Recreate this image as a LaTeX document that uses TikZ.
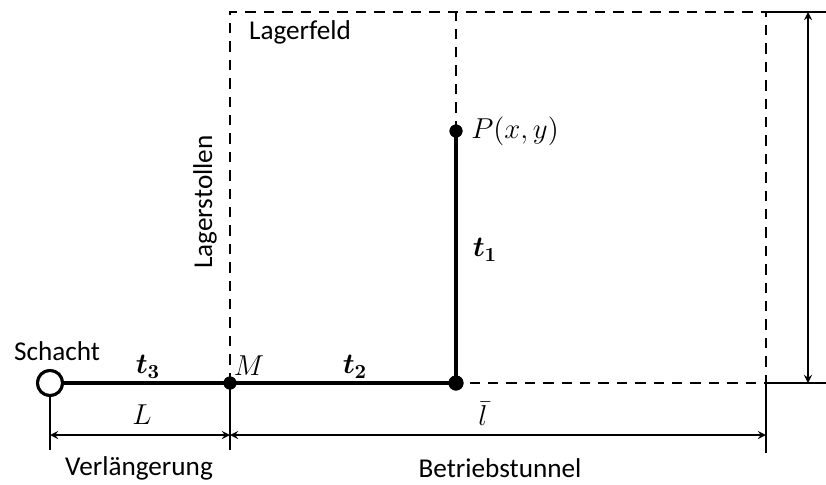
\documentclass[tikz,border=0pt]{standalone}
\usepackage{amsmath,amssymb}
\usepackage{fontspec}
\setmainfont{Carlito}
\usepackage{tikz}
\usetikzlibrary{arrows}

\tikzset{
  tunnel/.style={line width=1.6pt},
  field/.style={line width=1.3pt, dash pattern=on 5.2pt off 4pt},
  dimline/.style={line width=0.8pt},
  dot/.style={circle, fill, inner sep=0pt, minimum size=6.5pt},
  shaft/.style={circle, draw, line width=1.5pt, fill=white, inner sep=0pt, minimum size=12.5pt},
  lbl/.style={inner sep=1pt, font=\fontsize{13.6}{16}\selectfont}
}

\begin{document}
\begin{tikzpicture}[x=0.5pt, y=-0.5pt]
    \useasboundingbox (0,0) rectangle (826,484);
    % points
    \node[shaft] (S) at (50,383) {};
    \node[dot] (M) at (230,383) {};
    \node[dot, minimum size=7.5pt] (Q) at (456,383) {};
    \node[dot] (P) at (456,131) {};
    \coordinate (A) at (230,12);
    \coordinate (B) at (766,12);
    \coordinate (C) at (766,383);
    \coordinate (T) at (456,12);
    % Lagerfeld
    \draw[field] (M.center) -- (A) -- (B) -- (C) -- (Q.center);
    \draw[field] (P.center) -- (T);
    % tunnels
    \draw[tunnel] (S) -- (M.center) -- (Q.center) -- (P.center);
    \node[shaft] at (S) {};
    \node[dot] at (M) {};
    \node[dot, minimum size=7.5pt] at (Q) {};
    \node[dot] at (P) {};
    % Bemassung unten
    \draw[dimline] (S.south) -- (50,450);
    \draw[dimline] (M.center) -- (230,450);
    \draw[dimline] (C) -- (766,453);
    \draw[dimline,<->,>=stealth] (50,435) -- (230,435);
    \draw[dimline,<->,>=stealth] (230,435) -- (766,435);
    % Bemassung rechts
    \draw[dimline] (B) -- (826,12);
    \draw[dimline] (C) -- (826,383);
    \draw[dimline,<->,>=stealth] (808,12) -- (808,383);
    % labels
    \node[lbl] (lS) at (57,351) {Schacht};
    \node[lbl] (lt3) at (148,367) {$\boldsymbol{t}_{\boldsymbol{3}}$};
    \node[lbl] (lM) at (249,366) {$M$};
    \node[lbl] (lt2) at (355,367) {$\boldsymbol{t}_{\boldsymbol{2}}$};
    \node[lbl] (lt1) at (485,250) {$\boldsymbol{t}_{\boldsymbol{1}}$};
    \node[lbl] (lP) at (515,131) {$P(x,y)$};
    \node[lbl] (lF) at (300,32) {Lagerfeld};
    \node[lbl, rotate=90] (lSt) at (205,202) {Lagerstollen};
    \node[lbl] (lL) at (142,415) {$L$};
    \node[lbl] (ll) at (483,414) {$\bar{l}$};
    \node[lbl] (lV) at (139,468) {Verlängerung};
    \node[lbl] (lB) at (500,468) {Betriebstunnel};
\end{tikzpicture}
\end{document}
